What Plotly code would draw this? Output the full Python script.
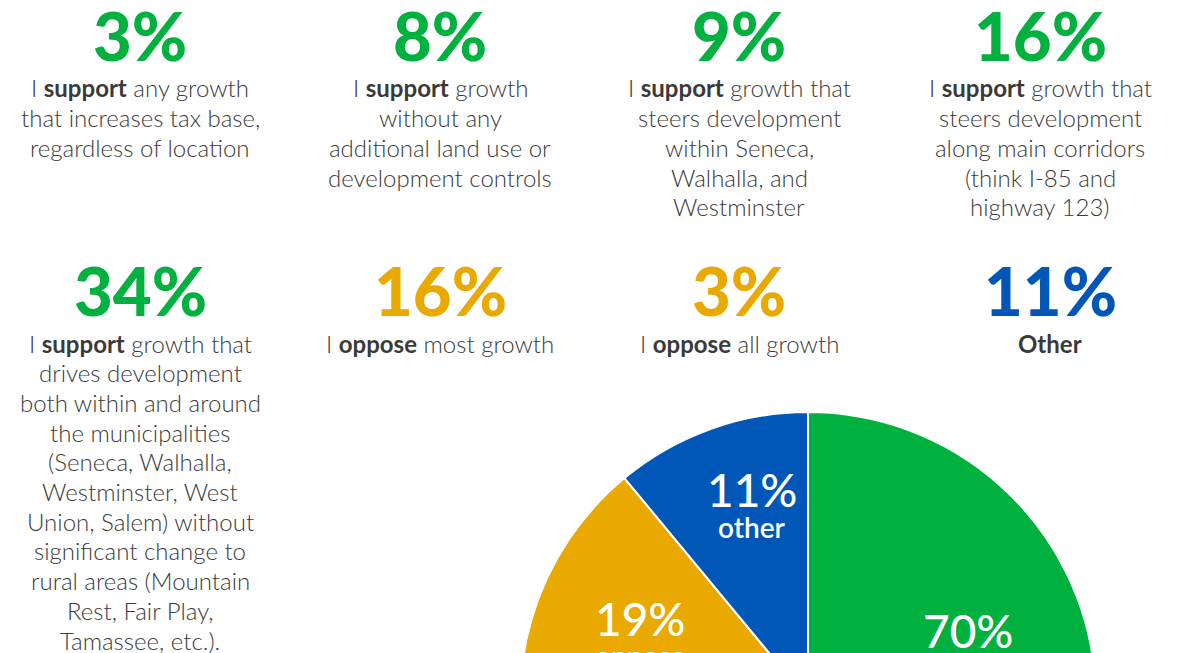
import plotly.graph_objects as go

# figure is taller than the window; the pie is cut off at the bottom like the original
W, H = 1181, 990
OFF = 8  # default page margin around the plot div

GREEN = "#00b140"
ORANGE = "#e9a900"
BLUE = "#0057b8"
TEXT = "#3a3a3a"

# top rows: share of answers
row1_pct = ["3%", "8%", "9%", "16%"]
row1_text = [
    "I <b>support</b> any growth<br>that increases tax base,<br>regardless of location",
    "I <b>support</b> growth<br>without any<br>additional land use or<br>development controls",
    "I <b>support</b> growth that<br>steers development<br>within Seneca,<br>Walhalla, and<br>Westminster",
    "I <b>support</b> growth that<br>steers development<br>along main corridors<br>(think I-85 and<br>highway 123)",
]
row1_color = [GREEN, GREEN, GREEN, GREEN]

row2_pct = ["34%", "16%", "3%", "11%"]
row2_text = [
    "I <b>support</b> growth that<br>drives development<br>both within and around<br>the municipalities<br>"
    "(Seneca, Walhalla,<br>Westminster, West<br>Union, Salem) without<br>significant change to<br>"
    "rural areas (Mountain<br>Rest, Fair Play,<br>Tamassee, etc.).",
    "I <b>oppose</b> most growth",
    "I <b>oppose</b> all growth",
    "<b>Other</b>",
]
row2_color = [GREEN, ORANGE, ORANGE, BLUE]

# pie summary
pie_labels = ["support", "oppose", "other"]
pie_values = [70, 19, 11]
pie_colors = [GREEN, ORANGE, BLUE]

col_x = [140, 440, 739, 1040]
row2_x = [140, 440, 739, 1050]
LINE = 29.7


def px(x):
    return (x - OFF) / W


def py(y):
    return 1 - (y - OFF) / H


fig = go.Figure()

fig.add_trace(go.Pie(
    labels=pie_labels,
    values=pie_values,
    sort=False,
    direction="clockwise",
    rotation=0,
    marker=dict(colors=pie_colors, line=dict(color="white", width=2)),
    textinfo="none",
    hoverinfo="label+percent",
    showlegend=False,
    domain=dict(x=[px(808 - 288), px(808 + 288)], y=[py(412 + 576), py(412)]),
))

annotations = []


def add_block(x, y_num, y_text, pct, color, text):
    annotations.append(dict(
        x=px(x), y=py(y_num), text=pct,
        font=dict(family="Lato", size=67, color=color, weight=900),
    ))
    for k, line in enumerate(text.split("<br>")):
        annotations.append(dict(
            x=px(x), y=py(y_text + k * LINE), text=line,
            font=dict(family="Lato", size=24, color=TEXT, weight=300),
        ))


for i in range(4):
    add_block(col_x[i], 35, 88, row1_pct[i], row1_color[i], row1_text[i])
    add_block(row2_x[i], 290, 343, row2_pct[i], row2_color[i], row2_text[i])

# labels inside the pie
pie_label_pos = [(968, 630), (640, 618), (752, 489)]
for (lx, ly), lab, val in zip(pie_label_pos, pie_labels, pie_values):
    annotations.append(dict(
        x=px(lx), y=py(ly), text=f"{val}%",
        font=dict(family="Lato", size=46, color="white", weight=500),
    ))
    annotations.append(dict(
        x=px(lx), y=py(ly + 38), text=lab,
        font=dict(family="Lato", size=28, color="white", weight=600),
    ))

for a in annotations:
    a.update(xref="paper", yref="paper", showarrow=False, align="center",
             xanchor="center", yanchor="middle")

fig.update_layout(
    width=W,
    height=H,
    margin=dict(l=0, r=0, t=0, b=0),
    paper_bgcolor="white",
    plot_bgcolor="white",
    annotations=annotations,
)

fig.write_html("out.html")
